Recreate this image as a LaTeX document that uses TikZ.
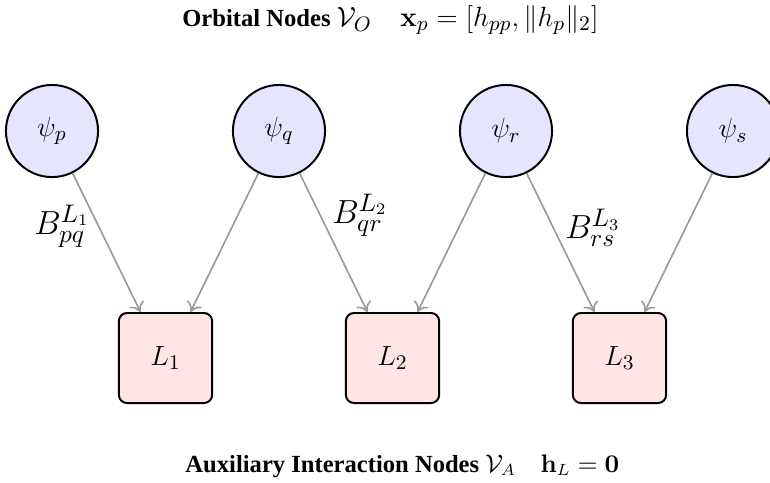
\documentclass[tikz,border=0pt]{standalone}
\usepackage{amsmath,amssymb}
\usepackage[no-math]{fontspec}
\setmainfont{Liberation Serif}
\usetikzlibrary{arrows.meta,calc}
\newcommand{\bigmath}[1]{{\fontsize{12.3}{14}\selectfont #1}}
\begin{document}
\begin{tikzpicture}[x=0.431pt,y=-0.431pt,
  orb/.style={circle,draw=black,line width=0.85pt,fill=blue!10,minimum size=39.7pt,inner sep=0pt,font=\fontsize{12.5}{14}\selectfont},
  aux/.style={rectangle,rounded corners=3.5pt,draw=black,line width=0.85pt,fill=red!10,minimum width=40.2pt,minimum height=38.8pt,inner sep=0pt,font=\fontsize{12.5}{14}\selectfont},
  link/.style={draw=black!40,line width=0.7pt,-{To[length=4pt,width=7pt]}},
  blab/.style={font=\fontsize{15}{17}\selectfont,inner sep=0pt},
  ttl/.style={font=\fontsize{10.6}{12}\selectfont\bfseries,inner sep=0pt}]
\useasboundingbox (0,0) rectangle (770,482);
\node[orb] (p) at (52,131) {$\psi_p$};
\node[orb] (q) at (279,131) {$\psi_q$};
\node[orb] (r) at (506,131) {$\psi_r$};
\node[orb] (s) at (733,131) {$\psi_s$};
\node[aux] (L1) at (165.5,358) {$L_1$};
\node[aux] (L2) at (392.5,358) {$L_2$};
\node[aux] (L3) at (619.5,358) {$L_3$};
\coordinate (L1a) at ($(L1.north)+(-25,0)$);
\coordinate (L1b) at ($(L1.north)+(25,0)$);
\coordinate (L2a) at ($(L2.north)+(-25,0)$);
\coordinate (L2b) at ($(L2.north)+(25,0)$);
\coordinate (L3a) at ($(L3.north)+(-25,0)$);
\coordinate (L3b) at ($(L3.north)+(25,0)$);
\draw[link] (p) -- (L1a);
\draw[link] (q) -- (L1b);
\draw[link] (q) -- (L2a);
\draw[link] (r) -- (L2b);
\draw[link] (r) -- (L3a);
\draw[link] (s) -- (L3b);
\node[blab] (b1) at (62,226) {$B_{pq}^{L_1}$};
\node[blab] (b2) at (360,215) {$B_{qr}^{L_2}$};
\node[blab] (b3) at (593,228) {$B_{rs}^{L_3}$};
\node[ttl] (t1) at (390.5,20) {Orbital Nodes \bigmath{$\mathcal{V}_O$\quad $\mathbf{x}_p=[h_{pp},\|h_p\|_2]$}};
\node[ttl,anchor=west] (t2) at (185,466) {Auxiliary Interaction Nodes $\mathcal{V}_A$\quad $\mathbf{h}_L=\mathbf{0}$};
\end{tikzpicture}
\end{document}
